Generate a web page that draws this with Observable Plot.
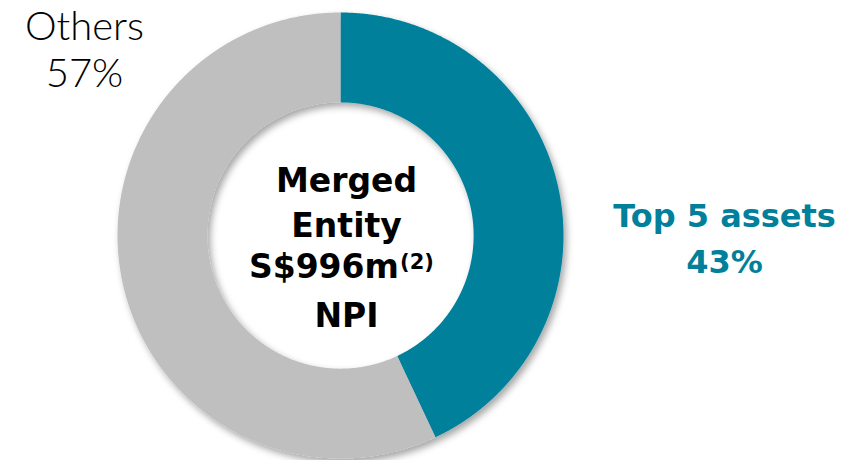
<!DOCTYPE html>
<html>
<head>
<meta charset="utf-8">
<script src="https://cdn.jsdelivr.net/npm/d3@7"></script>
<script src="https://cdn.jsdelivr.net/npm/@observablehq/plot@0.6"></script>
<style>
  html, body { margin: 0; padding: 0; background: #ffffff; }
  #chart { width: 856px; height: 460px; overflow: hidden; }
</style>
</head>
<body>
<div id="chart"></div>
<script>
// ---- data ----
const categories = ["Top 5 assets", "Others"];
const shares = [43, 57];
const sliceColors = ["#00809b", "#bfbfbf"];
const centerTitle = ["Merged", "Entity", "", "NPI"];
const centerValue = "S$996m";
const centerNote = "(2)";

// ---- geometry (unit radius donut) ----
const outerR = 1, innerR = 0.597;
const pie = d3.pie().sort(null).value(d => d.share);
const arcs = pie(categories.map((c, i) => ({cat: c, share: shares[i]})));
const ringPts = [];
for (const a of arcs) {
  const n = Math.max(8, Math.ceil((a.endAngle - a.startAngle) / 0.005));
  for (let k = 0; k <= n; k++) {
    const t = a.startAngle + (a.endAngle - a.startAngle) * k / n;
    ringPts.push({cat: a.data.cat, x: outerR * Math.sin(t), y: outerR * Math.cos(t)});
  }
  for (let k = n; k >= 0; k--) {
    const t = a.startAngle + (a.endAngle - a.startAngle) * k / n;
    ringPts.push({cat: a.data.cat, x: innerR * Math.sin(t), y: innerR * Math.cos(t)});
  }
}

const labelData = [
  {cat: "Others", text: `Others\n${shares[1]}%`, x: -1.148, y: 0.84},
  {cat: "Top 5 assets", text: `Top 5 assets\n${shares[0]}%`, x: 1.722, y: 0.0}
];

const W = 856, H = 460;
const cx = 340, cy = 235, rPx = 223;

const plot = Plot.plot({
  width: W,
  height: H,
  margin: 0,
  style: {background: "#ffffff"},
  x: {domain: [(0 - cx) / rPx, (W - cx) / rPx], axis: null},
  y: {domain: [(cy - H) / rPx, cy / rPx], axis: null},
  color: {domain: categories, range: sliceColors},
  marks: [
    Plot.line(ringPts, {x: "x", y: "y", z: "cat", fill: "cat", stroke: "none", curve: "linear-closed"}),
    Plot.text([labelData[0]], {
      x: "x", y: "y", text: "text", fill: "#000000",
      fontSize: 40, fontFamily: "Lato", fontWeight: 300, lineHeight: 1.18
    }),
    Plot.text([labelData[1]], {
      x: "x", y: "y", text: "text", fill: sliceColors[0],
      fontSize: 32, fontFamily: "DejaVu Sans", fontWeight: "bold", lineHeight: 1.42
    }),
    Plot.text([{text: centerTitle.join("\n"), x: 0.027, y: -0.042}], {
      x: "x", y: "y", text: "text", fill: "#000000",
      fontSize: 33, fontFamily: "DejaVu Sans", fontWeight: "bold", lineHeight: 1.37
    }),
    Plot.text([{text: centerValue, x: 0.262, y: -0.141}], {
      x: "x", y: "y", text: "text", fill: "#000000", textAnchor: "end",
      fontSize: 33, fontFamily: "DejaVu Sans", fontWeight: "bold"
    }),
    Plot.text([{text: centerNote, x: 0.267, y: -0.122}], {
      x: "x", y: "y", text: "text", fill: "#000000", textAnchor: "start",
      fontSize: 21, fontFamily: "DejaVu Sans", fontWeight: "bold"
    })
  ]
});

// soft drop shadow under the ring
const svg = d3.select(plot);
const defs = svg.insert("defs", ":first-child");
const f = defs.append("filter").attr("id", "ringShadow")
  .attr("x", "-10%").attr("y", "-10%").attr("width", "120%").attr("height", "120%");
f.append("feDropShadow").attr("dx", 3).attr("dy", 4).attr("stdDeviation", 3.5)
  .attr("flood-color", "#000").attr("flood-opacity", 0.35);
svg.select('g[aria-label="line"]').attr("filter", "url(#ringShadow)");

document.getElementById("chart").appendChild(plot);
</script>
</body>
</html>
